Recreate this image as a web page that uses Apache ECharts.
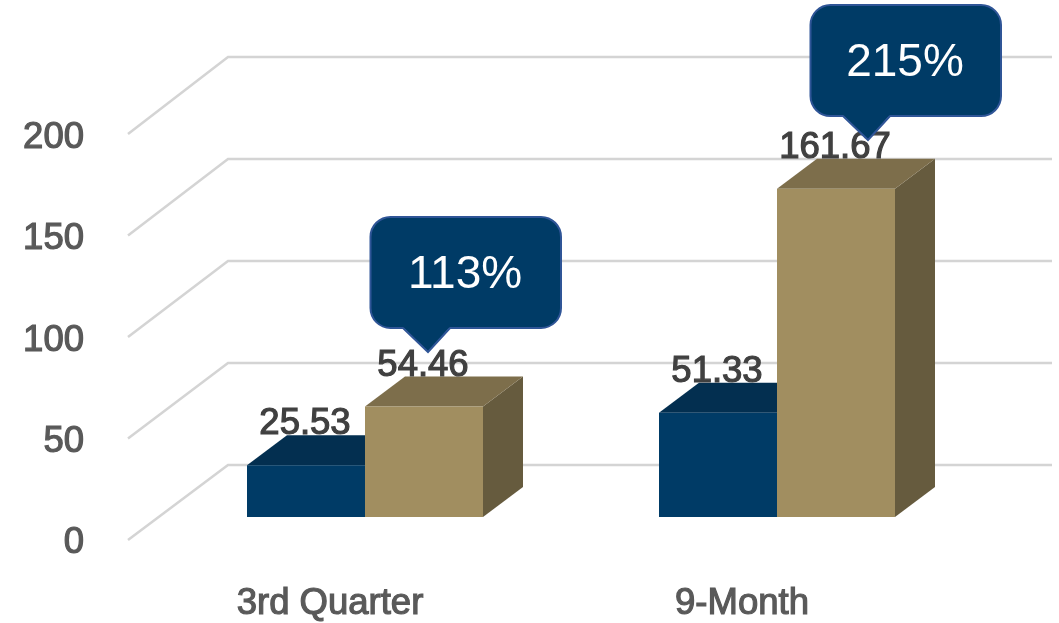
<!DOCTYPE html>
<html>
<head>
<meta charset="utf-8">
<title>3rd Quarter and 9-Month</title>
<script src="https://cdn.jsdelivr.net/npm/echarts@6/dist/echarts.min.js"></script>
<style>
	html, body { margin: 0; padding: 0; background: #fff; }
	#chart { width: 1059px; height: 623px; }
</style>
</head>
<body>
<div id="chart"></div>
<script>
var categories = ["3rd Quarter", "9-Month"];
var priorValues = [25.53, 51.33];
var currentValues = [54.46, 161.67];
var yTicks = [0, 50, 100, 150, 200];
var calloutLabels = ["113%", "215%"];
var calloutLevels = [81.3, 185.7];

var FONT = '"Liberation Sans", Arial, sans-serif';
var BAR_W = 118;
var SHIFT = [4, 32]; // callout tips sit a little right of the gold bar

// oblique depth of the bars and of the walls, seen from the bar plane
var BAR_DX = 40, BAR_DY = -30;
var BACK_DX = 69, BACK_DY = -52;
var FRONT_DX = -31, FRONT_DY = 23;
var BACK_STRETCH = 408 / 406; // back wall is drawn very slightly taller

function quad(x1, y1, x2, y2, x3, y3, x4, y4, color) {
	return {
		type: "polygon",
		shape: { points: [[x1, y1], [x2, y2], [x3, y3], [x4, y4]] },
		style: { fill: color }
	};
}

function renderWall(params, api) {
	var box = params.coordSys;
	var y = api.coord([0, api.value(1)])[1];
	var floor = api.coord([0, 0])[1];
	var backY = floor + BACK_DY - (floor - y) * BACK_STRETCH;
	return {
		type: "polyline",
		shape: { points: [
			[box.x + FRONT_DX, y + FRONT_DY],
			[box.x + BACK_DX, backY],
			[box.x + box.width + BACK_DX, backY]
		] },
		style: { fill: "none", stroke: "#d4d4d4", lineWidth: 2.5 }
	};
}

function barRenderer(side, front, top, right) {
	return function (params, api) {
		var base = api.coord([api.value(0), 0]);
		var head = api.coord([api.value(0), api.value(1)]);
		var x0 = base[0] + side * BAR_W;
		var x1 = x0 + BAR_W;
		return {
			type: "group",
			children: [
				quad(x1, head[1], x1 + BAR_DX, head[1] + BAR_DY, x1 + BAR_DX, base[1] + BAR_DY, x1, base[1], right),
				quad(x0, head[1], x0 + BAR_DX, head[1] + BAR_DY, x1 + BAR_DX, head[1] + BAR_DY, x1, head[1], top),
				{ type: "rect", shape: { x: x0, y: head[1], width: BAR_W, height: base[1] - head[1] }, style: { fill: front } },
				{
					type: "text",
					z2: 5,
					x: (x0 + x1) / 2 - 1,
					y: head[1] - 41,
					style: {
						text: api.value(1).toFixed(2),
						font: "36.5px " + FONT,
						fill: "#404040",
						stroke: "#404040",
						lineWidth: 1.2,
						align: "center",
						verticalAlign: "middle"
					}
				}
			]
		};
	};
}

function renderCallout(params, api) {
	var i = api.value(0);
	var at = api.coord([i, api.value(1)]);
	var tipX = at[0] + BAR_W / 2 + SHIFT[i], tipY = at[1];
	var edge = "#2f5597", fill = "#003b66";
	return {
		type: "group",
		children: [
			{
				type: "rect",
				shape: { x: tipX - 57.5, y: tipY - 135, width: 190.5, height: 111, r: 20 },
				style: { fill: fill, stroke: edge, lineWidth: 2 }
			},
			{
				type: "polygon",
				shape: { points: [[tipX - 25, tipY - 25], [tipX, tipY], [tipX + 22, tipY - 25]] },
				style: { fill: fill }
			},
			{
				type: "polyline",
				shape: { points: [[tipX - 25, tipY - 24], [tipX, tipY], [tipX + 22, tipY - 24]] },
				style: { stroke: edge, lineWidth: 2, fill: "none" }
			},
			{
				type: "text",
				z2: 5,
				x: tipX + 37,
				y: tipY - 77,
				style: {
					text: calloutLabels[i],
					font: "46px " + FONT,
					fill: "#ffffff",
					align: "center",
					verticalAlign: "middle"
				}
			}
		]
	};
}

function pairs(values) {
	return values.map(function (v, i) { return [i, v]; });
}

var chart = echarts.init(document.getElementById("chart"), null, { renderer: "canvas" });
chart.setOption({
	animation: false,
	backgroundColor: "#ffffff",
	grid: [
		// plane of the bars: drives all the marks
		{ left: 159, top: 111, width: 824, height: 406 },
		// front edge of the floor: only carries the tick labels
		{ left: 124, top: 138, width: 824, height: 406 }
	],
	xAxis: [
		{ gridIndex: 0, type: "category", data: categories, show: false },
		{
			gridIndex: 1,
			type: "category",
			data: categories,
			axisLine: { show: false },
			axisTick: { show: false },
			axisLabel: {
				margin: 42,
				fontFamily: FONT,
				fontSize: 36.5,
				color: "#595959",
				textBorderColor: "#595959",
				textBorderWidth: 1.2
			}
		}
	],
	yAxis: [
		{ gridIndex: 0, type: "value", min: 0, max: 200, interval: 50, show: false },
		{
			gridIndex: 1,
			type: "value",
			min: 0,
			max: 200,
			interval: 50,
			axisLine: { show: false },
			axisTick: { show: false },
			splitLine: { show: false },
			axisLabel: {
				margin: 40,
				fontFamily: FONT,
				fontSize: 36.5,
				color: "#595959",
				textBorderColor: "#595959",
				textBorderWidth: 1.2
			}
		}
	],
	series: [
		{
			type: "custom",
			name: "walls",
			xAxisIndex: 0,
			yAxisIndex: 0,
			z: 1,
			silent: true,
			renderItem: renderWall,
			data: yTicks.map(function (v) { return [0, v]; })
		},
		{
			type: "custom",
			name: "prior",
			xAxisIndex: 0,
			yAxisIndex: 0,
			z: 2,
			renderItem: barRenderer(-1, "#003b66", "#032f50", "#032f50"),
			data: pairs(priorValues)
		},
		{
			type: "custom",
			name: "current",
			xAxisIndex: 0,
			yAxisIndex: 0,
			z: 3,
			renderItem: barRenderer(0, "#a18e60", "#7d6e4b", "#665b3e"),
			data: pairs(currentValues)
		},
		{
			type: "custom",
			name: "callouts",
			xAxisIndex: 0,
			yAxisIndex: 0,
			z: 4,
			renderItem: renderCallout,
			data: pairs(calloutLevels)
		}
	]
});
</script>
</body>
</html>
